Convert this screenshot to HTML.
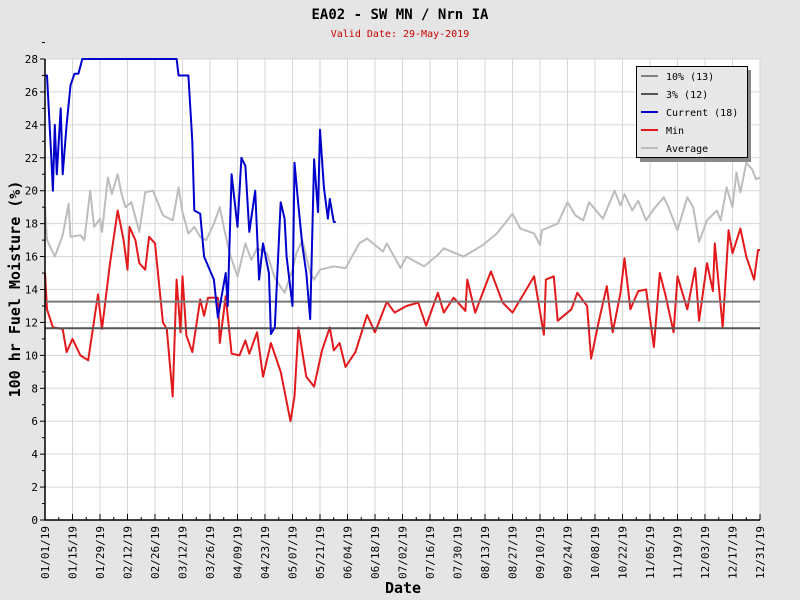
<!DOCTYPE html>
<html><head><meta charset="utf-8"><style>
html,body{margin:0;padding:0;background:#e5e5e5;}
svg{display:block;font-family:"DejaVu Sans Mono","Liberation Mono",monospace;}
</style></head><body>
<svg id="chart" width="800" height="600" viewBox="0 0 800 600">
<rect x="0" y="0" width="800" height="600" fill="#e5e5e5"/>
<text x="400" y="19" text-anchor="middle" font-size="14" font-weight="bold" fill="#000">EA02 - SW MN / Nrn IA</text>
<text x="400" y="37" text-anchor="middle" font-size="10" fill="#cc0000">Valid Date: 29-May-2019</text>
<rect x="45" y="59" width="715" height="461" fill="#fff"/>
<g id="grid"></g>
<g id="series"></g>
<g id="axes"></g>
<text x="0" y="0" transform="translate(20,289) rotate(-90)" text-anchor="middle" font-size="15" font-weight="bold">100 hr Fuel Moisture (%)</text>
<text x="403" y="593" text-anchor="middle" font-size="15" font-weight="bold">Date</text>
<g>
<rect x="640" y="70" width="111" height="92" fill="#888"/>
<rect x="636.5" y="66.5" width="111" height="91" fill="#e8e8e8" stroke="#000" stroke-width="1"/>
<g id="legend-items"></g>
</g>
</svg>
<script>
const minDays=[0,1,4,9,11,14,18,22,27,29,33,37,40,42,43,46,48,51,53,56,60,62,65,67,69,70,72,75,79,81,83,88,89,92,95,99,102,104,108,111,115,120,125,127,129,133,137,141,145,147,150,153,158,164,168,174,178,184,190,194,200,203,208,214,215,219,227,233,238,245,249,254,255,259,261,268,271,276,278,282,286,289,293,295,298,302,306,310,313,316,320,322,327,331,333,337,340,341,345,348,350,354,357,361,363,364];
const minVals=[15,12.8,11.7,11.6,10.2,11,10,9.7,13.7,11.6,15.5,18.8,17,15.2,17.8,17,15.6,15.2,17.2,16.8,12,11.6,7.5,14.6,11.4,14.8,11.2,10.2,13.4,12.4,13.5,13.5,10.75,13.6,10.1,10,10.9,10.1,11.4,8.7,10.75,9,6,7.5,11.7,8.7,8.1,10.3,11.7,10.3,10.75,9.3,10.2,12.45,11.4,13.25,12.6,13,13.2,11.8,13.8,12.6,13.5,12.7,14.6,12.6,15.1,13.2,12.6,14,14.8,11.25,14.6,14.8,12.1,12.8,13.8,13,9.8,12.1,14.2,11.4,13.8,15.9,12.8,13.9,14,10.5,15,13.6,11.4,14.8,12.8,15.3,12.1,15.6,13.9,16.8,11.7,17.6,16.2,17.7,16,14.6,16.4,16.4];
const avgDays=[0,1,5,9,12,13,18,20,23,25,28,29,32,34,37,39,41,44,48,51,55,60,65,68,70,73,76,79,82,86,89,91,94,98,102,105,108,113,117,122,126,128,131,135,137,140,147,153,160,164,172,174,181,184,193,200,203,213,223,230,238,242,249,252,253,257,261,266,270,274,277,284,290,293,295,299,302,306,310,315,317,322,327,330,333,337,342,344,347,350,352,354,357,360,362,364];
const avgVals=[19,17,16,17.3,19.2,17.2,17.3,17,20,17.8,18.3,17.5,20.8,19.8,21,19.8,19,19.3,17.5,19.9,20,18.5,18.2,20.2,18.7,17.4,17.8,17.2,17,18,19,17.8,16.2,14.8,16.8,15.8,16.5,16.2,14.7,13.8,15.2,16.2,17,15,14.6,15.2,15.4,15.3,16.8,17.1,16.3,16.8,15.3,16,15.4,16.1,16.5,16,16.7,17.4,18.6,17.7,17.4,16.7,17.6,17.8,18,19.3,18.5,18.2,19.3,18.3,20,19.1,19.8,18.8,19.4,18.2,18.9,19.6,19.1,17.6,19.6,19,16.9,18.2,18.8,18.2,20.2,19,21.1,19.9,21.7,21.3,20.7,20.8];
const curDays=[0,1,3,4,5,6,8,9,11,13,15,17,19,67,68,73,75,76,79,81,86,88,92,93,95,98,100,102,104,107,109,111,114,115,117,120,122,123,126,127,129,131,133,135,137,139,140,142,144,145,147,148];
const curVals=[27,27,22.5,20,24,21,25,21,24,26.4,27.1,27.1,28,28,27,27,23,18.8,18.6,16,14.6,12.3,15,13,21,17.8,22,21.5,17.5,20,14.6,16.8,15,11.3,11.7,19.3,18.3,16,13,21.7,19.1,16.7,15,12.2,21.9,18.7,23.7,20.2,18.3,19.5,18.1,18.1];
const pct10=13.26, pct3=11.65;
const yTicks=[0,2,4,6,8,10,12,14,16,18,20,22,24,26,28];
const xTickLabels=["01/01/19","01/15/19","01/29/19","02/12/19","02/26/19","03/12/19","03/26/19","04/09/19","04/23/19","05/07/19","05/21/19","06/04/19","06/18/19","07/02/19","07/16/19","07/30/19","08/13/19","08/27/19","09/10/19","09/24/19","10/08/19","10/22/19","11/05/19","11/19/19","12/03/19","12/17/19","12/31/19"];
const xTickDays=[0,14,28,42,56,70,84,98,112,126,140,154,168,182,196,210,224,238,252,266,280,294,308,322,336,350,364];

const NS="http://www.w3.org/2000/svg";
const L=45,R=760,T=59,B=520;
function X(d){return L+d*(R-L)/364;}
function Y(v){return B-v*(B-T)/28;}
function mk(tag,attrs,parent){const e=document.createElementNS(NS,tag);for(const k in attrs)e.setAttribute(k,attrs[k]);parent.appendChild(e);return e;}
const grid=document.getElementById('grid'),axes=document.getElementById('axes'),series=document.getElementById('series');
yTicks.forEach(v=>{
  const g=mk('line',{x1:L,x2:R,y1:Y(v),y2:Y(v),stroke:'#d6d6d6','stroke-width':1},grid);
  
  
  const t=mk('line',{x1:L-5,x2:L,y1:Y(v),y2:Y(v),stroke:'#000'},axes);
  
  
  const m=mk('line',{x1:L-3,x2:L,y1:Y(v+1),y2:Y(v+1),stroke:'#000'},axes);
  
  
  const lb=mk('text',{x:L-7,y:Y(v)+4,'text-anchor':'end','font-size':11},axes);
  lb.textContent=v;
  
  
});
xTickDays.forEach((d,i)=>{
  const g=mk('line',{x1:X(d),x2:X(d),y1:T,y2:B,stroke:'#d6d6d6','stroke-width':1},grid);
  
  
  const t=mk('line',{x1:X(d),x2:X(d),y1:B,y2:B-6,stroke:'#000'},axes);
  
  
  if(d+7<=364){const m=mk('line',{x1:X(d+7),x2:X(d+7),y1:B,y2:B-3,stroke:'#000'},axes);
  
  }
  const lb=mk('text',{x:0,y:0,transform:`translate(${X(d)+4},${B+6}) rotate(-90)`,'text-anchor':'end','font-size':11},axes);
  lb.textContent=xTickLabels[i];
  
  
});
const ax=mk('path',{d:`M${L},${T} V${B} H${R}`,stroke:'#000',fill:'none','stroke-width':1.5},axes);


const rb=mk('line',{x1:R,x2:R,y1:T,y2:B,stroke:'#d6d6d6'},grid);



function poly(days,vals,color,name){
  const p=mk('polyline',{points:days.map((d,i)=>X(d).toFixed(1)+','+Y(vals[i]).toFixed(1)).join(' '),fill:'none',stroke:color,'stroke-width':2,'stroke-linejoin':'round'},series);
  
  
}
poly(avgDays,avgVals,'#bdbdbd','average-line');
poly(minDays,minVals,'#e31a1c','min-line');
const h1=mk('line',{x1:L,x2:R,y1:Y(pct10),y2:Y(pct10),stroke:'#777','stroke-width':2},series);


const h2=mk('line',{x1:L,x2:R,y1:Y(pct3),y2:Y(pct3),stroke:'#555','stroke-width':2},series);


poly(curDays,curVals,'#0000cc','current-line');

const legNames=["10% (13)","3% (12)","Current (18)","Min","Average"];
const legColors=["#808080","#555555","#0000cc","#e31a1c","#bdbdbd"];
const li=document.getElementById('legend-items');
legNames.forEach((n,i)=>{
  const y=76+i*18;
  const l=mk('line',{x1:641,x2:658,y1:y,y2:y,stroke:legColors[i],'stroke-width':2},li);
  
  
  const t=mk('text',{x:666,y:y+4,'font-size':10},li);
  t.textContent=n;
  
  
});
</script>
</body></html>
